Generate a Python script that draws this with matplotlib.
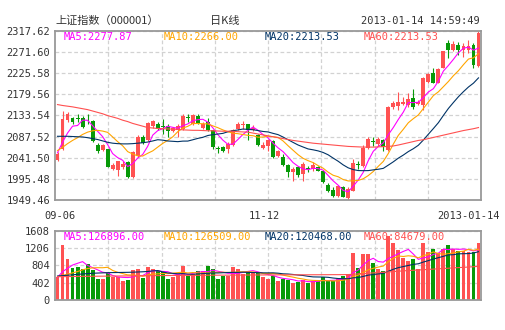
import numpy as np
import pandas as pd
import matplotlib
matplotlib.use("Agg")
import matplotlib.pyplot as plt

plt.rcParams['font.family'] = ['DejaVu Sans Mono']

# daily candles 2012-09-06 .. 2013-01-14
opens = [2037.4, 2060.8, 2124.3, 2127.2, 2128.6, 2127.2, 2126.5, 2120.6, 2068.1, 2058.6,
         2059.3, 2017.0, 2014.8, 2020.6, 2031.6, 1998.7, 2046.2, 2086.3, 2079.0, 2111.1,
         2114.0, 2109.7, 2109.7, 2099.4, 2100.9, 2104.6, 2129.4, 2114.0, 2131.6, 2106.7,
         2119.2, 2100.9, 2062.2, 2064.4, 2060.8, 2068.1, 2104.6, 2112.6, 2114.0, 2102.4,
         2089.9, 2062.9, 2065.9, 2077.5, 2046.2, 2044.0, 2026.4, 2011.1, 2020.6, 2006.0,
         2019.1, 2017.0, 2022.1, 2011.8, 1982.6, 1971.7, 1958.5, 1976.8, 1953.4, 1969.5,
         2027.9, 2024.3, 2062.9, 2077.5, 2070.2, 2079.0, 2058.6, 2152.0, 2153.5, 2159.3,
         2155.7, 2170.2, 2157.8, 2155.7, 2206.8, 2226.5, 2204.6, 2237.4, 2290.7, 2276.1,
         2287.1, 2276.1, 2274.6, 2286.0, 2240.0]
highs = [2053.5, 2143.2, 2141.8, 2130.1, 2137.4, 2133.0, 2135.9, 2122.8, 2073.9, 2070.2,
         2060.8, 2029.4, 2035.2, 2033.7, 2033.7, 2057.1, 2089.9, 2091.4, 2119.2, 2124.3,
         2119.2, 2126.5, 2115.5, 2108.2, 2114.0, 2137.4, 2137.4, 2135.9, 2135.9, 2118.4,
         2128.6, 2102.4, 2067.3, 2067.3, 2075.4, 2104.6, 2118.4, 2121.3, 2115.5, 2111.9,
         2092.1, 2075.4, 2082.6, 2079.0, 2058.6, 2049.8, 2027.9, 2020.6, 2024.3, 2031.6,
         2024.3, 2031.6, 2024.3, 2013.3, 1985.6, 1976.8, 1982.6, 1980.5, 1978.3, 2038.9,
         2033.7, 2068.1, 2086.3, 2086.3, 2086.3, 2081.9, 2153.5, 2165.1, 2184.9, 2172.4,
         2181.2, 2190.7, 2166.6, 2217.7, 2225.0, 2236.0, 2236.0, 2273.9, 2298.0, 2294.4,
         2292.2, 2290.7, 2298.0, 2291.0, 2317.62]
lows = [2033.7, 2058.6, 2119.2, 2115.5, 2119.2, 2106.7, 2115.5, 2075.4, 2051.3, 2055.6,
        2020.6, 2014.8, 2002.4, 2017.0, 1997.2, 1997.2, 2044.0, 2071.7, 2077.5, 2106.7,
        2100.9, 2093.6, 2086.3, 2096.5, 2086.3, 2102.4, 2119.2, 2111.9, 2114.0, 2104.6,
        2099.4, 2060.8, 2051.3, 2054.2, 2051.3, 2065.9, 2102.4, 2104.6, 2079.0, 2099.4,
        2065.9, 2060.8, 2057.1, 2041.0, 2042.5, 2024.3, 1998.7, 1991.4, 1998.7, 1991.4,
        2009.7, 2013.3, 2011.8, 1985.6, 1965.9, 1954.9, 1954.9, 1954.9, 1949.46, 1968.0,
        2017.0, 2020.6, 2060.8, 2065.9, 2065.9, 2057.1, 2057.1, 2148.4, 2144.7, 2155.7,
        2152.0, 2148.4, 2155.7, 2144.7, 2204.6, 2203.1, 2203.1, 2236.0, 2257.9, 2272.5,
        2265.2, 2261.5, 2268.8, 2236.0, 2238.0]
closes = [2049.8, 2126.5, 2135.9, 2118.4, 2126.5, 2108.2, 2125.0, 2077.5, 2057.1, 2068.8,
          2022.1, 2026.4, 2033.7, 2028.0, 2000.2, 2054.9, 2086.3, 2073.2, 2117.0, 2121.3,
          2103.8, 2107.5, 2099.4, 2105.3, 2111.1, 2131.6, 2127.2, 2133.8, 2117.0, 2115.5,
          2100.9, 2064.4, 2060.0, 2057.1, 2070.2, 2102.4, 2115.5, 2114.8, 2100.9, 2106.7,
          2068.1, 2068.1, 2079.0, 2044.0, 2055.6, 2026.4, 2011.1, 2017.0, 2003.8, 2027.9,
          2017.0, 2026.4, 2013.3, 1987.8, 1969.5, 1958.5, 1979.0, 1956.4, 1973.2, 2030.1,
          2025.7, 2062.9, 2082.6, 2075.4, 2082.6, 2064.4, 2152.0, 2160.8, 2163.0, 2163.0,
          2168.1, 2152.0, 2163.0, 2215.5, 2222.8, 2204.6, 2234.5, 2272.5, 2276.1, 2289.2,
          2276.1, 2283.4, 2284.9, 2243.0, 2311.7]
volumes = [526, 1275, 951, 742, 765, 719, 835, 696, 487, 487,
           634, 541, 526, 441, 464, 696, 719, 518, 765, 719,
           672, 642, 487, 533, 603, 788, 557, 603, 672, 672,
           788, 719, 487, 557, 557, 765, 719, 603, 672, 642,
           634, 533, 479, 557, 441, 495, 464, 394, 410, 464,
           402, 448, 441, 526, 433, 441, 479, 557, 603, 1098,
           742, 1067, 1067, 866, 719, 672, 1492, 1330, 1160, 982,
           904, 951, 719, 1330, 1105, 1183, 1098, 1183, 1275, 1183,
           1136, 1136, 1121, 1121, 1330]

# moving average values before enough days are in the window
ma5_head = [2052, 2075, 2095, 2110]
ma10_head = [2057, 2064, 2072, 2079, 2085, 2092, 2097, 2100, 2101]
ma20_head = [2088, 2088, 2088, 2087.5, 2087, 2086.5, 2085, 2083, 2081, 2078,
             2075, 2073, 2072, 2071.5, 2071.5, 2072, 2073, 2074, 2075.5]
ma60_line = [2157, 2155, 2153.5, 2152, 2150, 2148, 2146, 2143, 2140, 2137,
             2133, 2130, 2127, 2123, 2120, 2116, 2113, 2110, 2107, 2106,
             2105, 2104.5, 2104, 2103.5, 2103, 2102, 2101.5, 2101, 2101, 2100.5,
             2100, 2100, 2099.5, 2099, 2099, 2099, 2098, 2097.5, 2097, 2095,
             2093, 2091, 2089, 2087, 2085, 2083, 2081, 2079, 2077.5, 2076,
             2074.5, 2073, 2072, 2071, 2070, 2069, 2068, 2067, 2066, 2065.5,
             2065, 2064.5, 2064.5, 2064.5, 2065, 2065.5, 2066, 2067, 2069, 2071.5,
             2074, 2076.5, 2079, 2080.5, 2083, 2085.5, 2088, 2090.5, 2093, 2095.5,
             2098, 2100.5, 2102.5, 2104.5, 2107]
vma5_head = [525, 657, 734, 811]
vma10_head = [541, 570, 600, 630, 660, 700, 730, 745, 750]
vma20_head = [557, 565, 575, 585, 595, 605, 612, 620, 625, 630,
              634, 636, 638, 640, 642, 645, 650, 655, 662]
vma60_line = [540, 542, 543, 545, 546, 548, 549, 550, 552, 553,
              554, 556, 557, 558, 559, 560, 561, 562, 563, 565,
              566, 567, 568, 569, 570, 571, 572, 572, 573, 574,
              575, 575, 576, 577, 577, 578, 578, 579, 580, 580,
              581, 581, 582, 582, 583, 583, 584, 584, 585, 585,
              585, 586, 586, 587, 587, 588, 588, 589, 590, 598,
              606, 614, 622, 630, 636, 642, 650, 660, 668, 676,
              684, 690, 696, 703, 710, 717, 724, 731, 738, 745,
              752, 758, 765, 772, 780]

price_ticks = [1949.46, 1995.48, 2041.50, 2087.52, 2133.54, 2179.56, 2225.58, 2271.60, 2317.62]
vol_ticks = [0, 402, 804, 1206, 1608]
date_labels = ['09-06', '11-12', '2013-01-14']
date_pos = [0.4, 41.3, 82.1]
price_legend = ['MA5:2277.87', 'MA10:2266.00', 'MA20:2213.53', 'MA60:2213.53']
vol_legend = ['MA5:126896.00', 'MA10:126509.00', 'MA20:120468.00', 'MA60:84679.00']

RED = '#ff5252'
GREEN = '#079a08'
ma_colors = ['#ff00ff', '#ffa500', '#003366', '#ff5050']
TXT = '#333333'


def ma(values, n, head):
    m = pd.Series(values, dtype=float).rolling(n).mean().to_numpy()
    m[:len(head)] = head
    return m


o = np.array(opens)
c = np.array(closes)
x = np.arange(len(c))
up = c >= o
colors = np.where(up, RED, GREEN)

price_mas = [ma(closes, 5, ma5_head), ma(closes, 10, ma10_head),
             ma(closes, 20, ma20_head), np.array(ma60_line)]
vol_mas = [ma(volumes, 5, vma5_head), ma(volumes, 10, vma10_head),
           ma(volumes, 20, vma20_head), np.array(vma60_line)]

fig = plt.figure(figsize=(5.05, 3.30), dpi=100)
ax = fig.add_axes([55 / 505, 130 / 330, 426 / 505, 169.3 / 330])
ax2 = fig.add_axes([55 / 505, 30 / 330, 426 / 505, 69.3 / 330])

grid_x = [-0.5 + 85 / 8 * k for k in range(1, 8)]

for a in (ax, ax2):
    a.set_xlim(-0.5, 84.5)
    a.set_xticks(grid_x)
    a.set_xticklabels([])
    a.grid(True, color='#d2d2d2', linestyle=(0, (3, 2)), linewidth=0.9)
    a.set_axisbelow(True)
    a.tick_params(length=0, pad=3.6, labelsize=7.5, labelcolor=TXT)
    for s in a.spines.values():
        s.set_color('#999999')
        s.set_linewidth(1.3)

# candles
ax.vlines(x, lows, highs, color=colors, linewidth=0.8)
body = np.maximum(np.abs(c - o), 1.2)
ax.bar(x, body, bottom=np.minimum(o, c), width=0.78, color=colors, linewidth=0)
for m, col in zip(price_mas, ma_colors):
    ax.plot(x, m, color=col, linewidth=0.8)
ax.set_ylim(price_ticks[0], price_ticks[-1])
ax.set_yticks(price_ticks)
ax.set_yticklabels(['%.2f' % t for t in price_ticks])

# volume
ax2.bar(x, volumes, width=0.78, color=colors, linewidth=0)
for m, col in zip(vol_mas, ma_colors):
    ax2.plot(x, m, color=col, linewidth=0.8)
ax2.set_ylim(0, 1608)
ax2.set_yticks(vol_ticks)
ax2.set_yticklabels([str(t) for t in vol_ticks])

# legends inside panels
leg_x = [9 / 426, 109 / 426, 210 / 426, 309 / 426]
for lx, t, col in zip(leg_x, price_legend, ma_colors):
    ax.text(lx, 0.963, t, transform=ax.transAxes, color=col, fontsize=7.5, va='center')
for lx, t, col in zip(leg_x, vol_legend, ma_colors):
    ax2.text(lx, 0.905, t, transform=ax2.transAxes, color=col, fontsize=7.5, va='center')

# date labels under price panel
for p, t in zip(date_pos, date_labels):
    ax.text(p, -0.095, t, transform=ax.get_xaxis_transform(), ha='center', va='center',
            fontsize=7.5, color=TXT, clip_on=False)

# header
cjk = ['Noto Sans CJK SC', 'DejaVu Sans']
fig.text(55 / 505, 1 - 21 / 330, '上证指数（000001）', family=cjk, fontsize=8, color=TXT, va='center')
fig.text(225 / 505, 1 - 21 / 330, '日K线', family=cjk, fontsize=8, color=TXT, va='center', ha='center')
fig.text(480 / 505, 1 - 21 / 330, '2013-01-14 14:59:49', fontsize=7.5, color=TXT, va='center', ha='right')

fig.savefig('out.png', dpi=100)
